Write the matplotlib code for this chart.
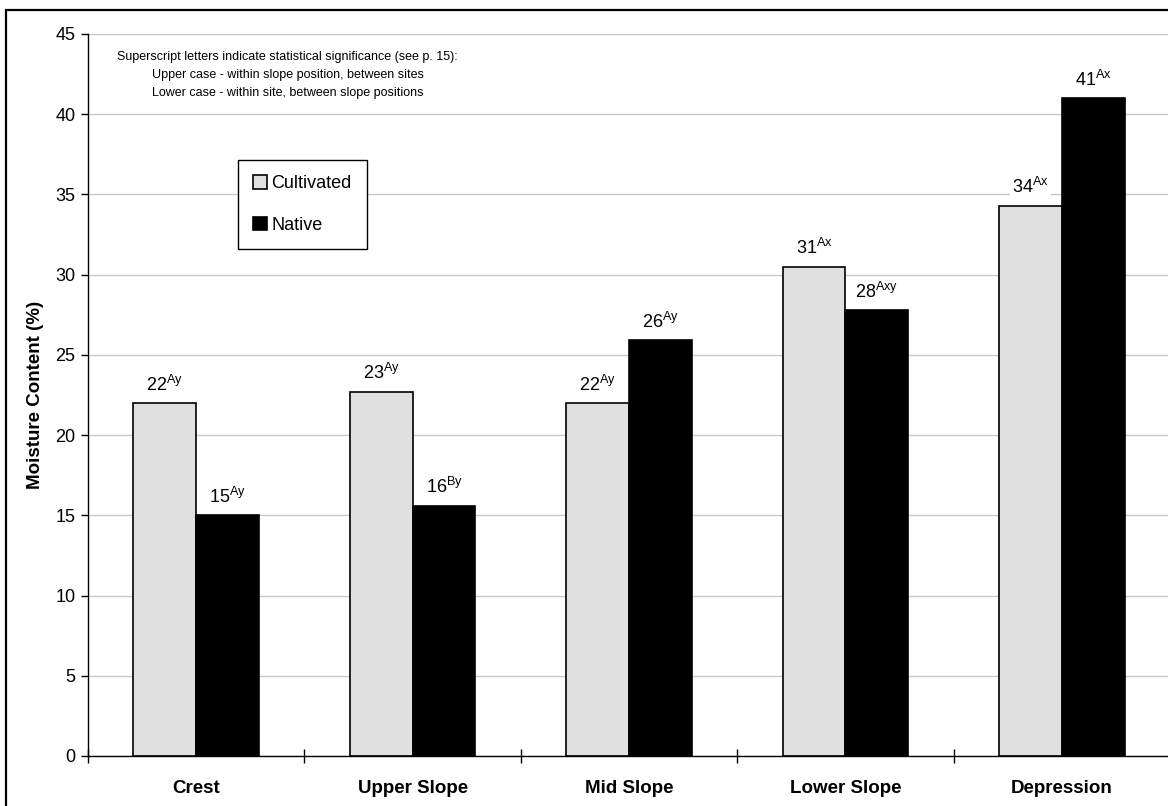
import matplotlib.pyplot as plt
from matplotlib.ticker import FixedLocator, NullFormatter
from matplotlib.patches import Rectangle

plt.rcParams['font.family'] = ['Liberation Sans', 'DejaVu Sans']

# data
positions = ['Crest', 'Upper Slope', 'Mid Slope', 'Lower Slope', 'Depression']
cultivated = [22.0, 22.7, 22.0, 30.5, 34.3]
native = [15.0, 15.6, 25.9, 27.8, 41.0]
cult_labels = ['22', '23', '22', '31', '34']
cult_sup = ['Ay', 'Ay', 'Ay', 'Ax', 'Ax']
native_labels = ['15', '16', '26', '28', '41']
native_sup = ['Ay', 'By', 'Ay', 'Axy', 'Ax']
yticks = [0, 5, 10, 15, 20, 25, 30, 35, 40, 45]

W, H = 1168, 806
fig = plt.figure(figsize=(W / 100, H / 100), dpi=100)

# outer chart frame (cropped on right and bottom in the original)
fig.add_artist(Rectangle((6 / W, -0.05), 1.2, 1 - 10 / H + 0.05,
                         transform=fig.transFigure, fill=False,
                         edgecolor='black', linewidth=1.6))

left, right, top, bottom = 88, 1170, 34, 756
ax = fig.add_axes([left / W, 1 - bottom / H, (right - left) / W, (bottom - top) / H])

bw = 0.29
centers = [i + 0.5 for i in range(len(positions))]
xc = [c - bw / 2 for c in centers]
xn = [c + bw / 2 for c in centers]

ax.bar(xc, cultivated, width=bw, color='#e0e0e0', edgecolor='black',
       linewidth=1.2, label='Cultivated', zorder=3)
ax.bar(xn, native, width=bw, color='black', edgecolor='black',
       linewidth=1.2, label='Native', zorder=3)

box = dict(facecolor='white', edgecolor='none', pad=1.5)
for x, v, t, s in zip(xc, cultivated, cult_labels, cult_sup):
    ax.annotate(r'$\mathregular{%s^{%s}}$' % (t, s), (x, v), xytext=(0, 6),
                textcoords='offset points', ha='center', va='bottom',
                fontsize=13, bbox=box, zorder=4)
for x, v, t, s in zip(xn, native, native_labels, native_sup):
    ax.annotate(r'$\mathregular{%s^{%s}}$' % (t, s), (x, v), xytext=(0, 6),
                textcoords='offset points', ha='center', va='bottom',
                fontsize=13, bbox=box, zorder=4)

ax.set_xlim(0, 5)
ax.set_ylim(0, 45)
ax.set_yticks(yticks)
ax.yaxis.grid(True, color='#c8c8c8', linewidth=1)
ax.set_axisbelow(True)

ax.xaxis.set_major_locator(FixedLocator(range(6)))
ax.xaxis.set_major_formatter(NullFormatter())
ax.xaxis.set_minor_locator(FixedLocator(centers))
ax.set_xticklabels(positions, minor=True, fontweight='bold', fontsize=13.5)
ax.tick_params(axis='x', which='major', direction='inout', length=10, width=1)
ax.tick_params(axis='x', which='minor', length=0, pad=17)
ax.tick_params(axis='y', direction='out', length=5, width=1, labelsize=13, pad=4)

for side in ['top', 'right']:
    ax.spines[side].set_visible(False)
ax.spines['left'].set_linewidth(1)
ax.spines['bottom'].set_linewidth(1)

ax.set_ylabel('Moisture Content (%)', fontweight='bold', fontsize=13.5, labelpad=8)

fig.text(117 / W, 1 - 57 / H,
         'Superscript letters indicate statistical significance (see p. 15):',
         fontsize=9, va='center')
fig.text(152 / W, 1 - 75 / H,
         'Upper case - within slope position, between sites',
         fontsize=9, va='center')
fig.text(152 / W, 1 - 93 / H,
         'Lower case - within site, between slope positions',
         fontsize=9, va='center')

leg = ax.legend(loc='upper left', bbox_to_anchor=(238 / W, 1 - 160 / H),
                bbox_transform=fig.transFigure, fontsize=13, frameon=True,
                fancybox=False, edgecolor='black', framealpha=1,
                handlelength=0.75, handleheight=0.75, handletextpad=0.25,
                labelspacing=1.35, borderpad=0.85, borderaxespad=0)
leg.get_frame().set_linewidth(1)

fig.savefig('out.png', dpi=100)
